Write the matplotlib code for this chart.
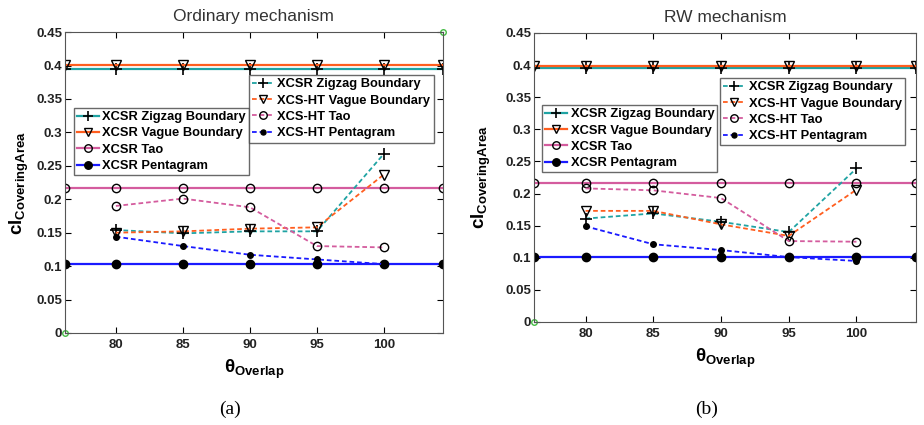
import numpy as np
import matplotlib
matplotlib.use('Agg')
import matplotlib.pyplot as plt

plt.rcParams['font.family'] = ['Liberation Sans', 'DejaVu Sans']
plt.rcParams['mathtext.fontset'] = 'custom'
plt.rcParams['mathtext.bf'] = 'Liberation Sans:bold'
plt.rcParams['mathtext.rm'] = 'Liberation Sans'

# x positions of the measured points
overlap = [80, 85, 90, 95, 100]
# the flat XCSR reference lines run edge to edge
edge_x = [76.2, 80, 85, 90, 95, 100, 104.4]

# Ordinary mechanism
ord_flat = {'zigzag': 0.395, 'vague': 0.401, 'tao': 0.217, 'penta': 0.103}
ord_zigzag = [0.154, 0.149, 0.152, 0.152, 0.268]
ord_vague = [0.150, 0.152, 0.156, 0.158, 0.237]
ord_tao = [0.190, 0.201, 0.188, 0.130, 0.128]
ord_penta = [0.144, 0.130, 0.117, 0.110, 0.103]

# RW mechanism
rw_flat = {'zigzag': 0.395, 'vague': 0.399, 'tao': 0.217, 'penta': 0.101}
rw_zigzag = [0.161, 0.169, 0.156, 0.140, 0.239]
rw_vague = [0.173, 0.173, 0.152, 0.134, 0.206]
rw_tao = [0.208, 0.205, 0.193, 0.126, 0.125]
rw_penta = [0.149, 0.121, 0.112, 0.101, 0.095]

teal = '#1fa3a3'
orange = '#ff5e1f'
pink = '#d45c9e'
blue = '#1a1aff'
dash = (2.6, 1.6)

fig = plt.figure(figsize=(9.24, 4.25), dpi=100)


def draw(rect, title, flat, zig, vag, tao, pen, leg1, leg2, caption,
         cap_x, ylpad, corners):
    ax = fig.add_axes(rect)
    n = len(edge_x)
    h1, = ax.plot(edge_x, [flat['zigzag']] * n, '-', color=teal, lw=1.6,
                  marker='+', ms=8, mec='k', mew=1.2)
    h2, = ax.plot(edge_x, [flat['vague']] * n, '-', color=orange, lw=1.6,
                  marker='v', ms=7, mec='k', mfc='none', mew=1.0)
    h3, = ax.plot(edge_x, [flat['tao']] * n, '-', color=pink, lw=1.6,
                  marker='o', ms=6, mec='k', mfc='none', mew=1.0)
    h4, = ax.plot(edge_x, [flat['penta']] * n, '-', color=blue, lw=1.6,
                  marker='o', ms=6, mec='k', mfc='k')
    d1, = ax.plot(overlap, zig, '--', color=teal, lw=1.3, dashes=dash,
                  marker='+', ms=8, mec='k', mew=1.2)
    d2, = ax.plot(overlap, vag, '--', color=orange, lw=1.3, dashes=dash,
                  marker='v', ms=7, mec='k', mfc='none', mew=1.0)
    d3, = ax.plot(overlap, tao, '--', color=pink, lw=1.3, dashes=dash,
                  marker='o', ms=6, mec='k', mfc='none', mew=1.0)
    d4, = ax.plot(overlap, pen, '--', color=blue, lw=1.3, dashes=dash,
                  marker='o', ms=4, mec='k', mfc='k')
    # corner markers left by the original limits
    ax.plot(corners[0], corners[1], 'o', ls='none', ms=4,
            mec='#44bb44', mfc='none', clip_on=False)

    ax.set_xlim(edge_x[0], edge_x[-1])
    ax.set_ylim(0, 0.45)
    ax.set_xticks(overlap)
    ax.set_yticks(np.arange(0, 0.451, 0.05))
    ax.set_yticklabels(['0', '0.05', '0.1', '0.15', '0.2', '0.25', '0.3',
                        '0.35', '0.4', '0.45'])
    ax.tick_params(direction='in', labelsize=9.5, length=4, width=0.8,
                   top=True, right=True, pad=2)
    ax.tick_params(axis='x', pad=4)
    for lab in ax.get_xticklabels() + ax.get_yticklabels():
        lab.set_fontweight('bold')
        lab.set_color('#222222')
    for s in ax.spines.values():
        s.set_color('#555555')
    ax.set_title(title, fontsize=12.5, color='#333333', pad=8)
    ax.set_ylabel(r'$\mathbf{cl}_{\mathbf{CoveringArea}}$', fontsize=13.5,
                  labelpad=ylpad)
    ax.set_xlabel(r'$\mathbf{\theta}_{\mathbf{Overlap}}$', fontsize=13.5,
                  labelpad=5)

    style = dict(loc='upper left', prop={'weight': 'bold', 'size': 9.3},
                 frameon=True, fancybox=False, edgecolor='#444444',
                 borderpad=0.25, labelspacing=0.33, handlelength=1.7,
                 handletextpad=0.25, borderaxespad=0, markerscale=0.9)
    lg1 = ax.legend([h1, h2, h3, h4],
                    ['XCSR Zigzag Boundary', 'XCSR Vague Boundary',
                     'XCSR Tao', 'XCSR Pentagram'],
                    bbox_to_anchor=leg1, **style)
    lg1.get_frame().set_linewidth(1.0)
    ax.add_artist(lg1)
    lg2 = ax.legend([d1, d2, d3, d4],
                    ['XCSR Zigzag Boundary', 'XCS-HT Vague Boundary',
                     'XCS-HT Tao', 'XCS-HT Pentagram'],
                    bbox_to_anchor=leg2, **style)
    lg2.get_frame().set_linewidth(1.0)
    fig.text(cap_x, 0.036, caption, ha='center', va='center', fontsize=14,
             family='Liberation Serif')
    return ax


draw([0.0703, 0.2165, 0.409, 0.708], 'Ordinary mechanism', ord_flat,
     ord_zigzag, ord_vague, ord_tao, ord_penta,
     (0.024, 0.748), (0.487, 0.857), '(a)', 0.249, 4,
     ([edge_x[0], edge_x[-1]], [0, 0.45]))
draw([0.578, 0.2424, 0.4134, 0.68], 'RW mechanism', rw_flat,
     rw_zigzag, rw_vague, rw_tao, rw_penta,
     (0.021, 0.751), (0.487, 0.844), '(b)', 0.765, 9,
     ([edge_x[0]], [0]))

fig.savefig('out.png', dpi=100)
